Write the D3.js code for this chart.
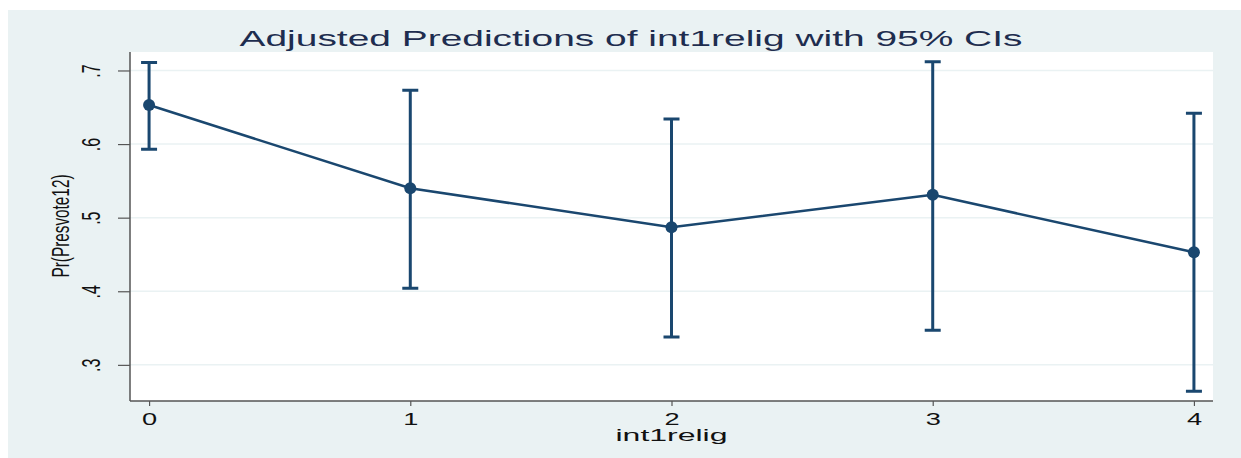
<!DOCTYPE html>
<html>
<head>
<meta charset="utf-8">
<script src="https://cdn.jsdelivr.net/npm/d3@7"></script>
<style>
  body { margin: 0; background: #fff; }
  svg { display: block; }
</style>
</head>
<body>
<div id="chart"></div>
<script>
// values
const levels = [0, 1, 2, 3, 4];
const margins = [0.653, 0.540, 0.487, 0.531, 0.453];
const ciLow = [0.593, 0.404, 0.338, 0.347, 0.264];
const ciHigh = [0.711, 0.673, 0.634, 0.712, 0.642];
const yTicks = [0.3, 0.4, 0.5, 0.6, 0.7];
const yTickLabels = ['.3', '.4', '.5', '.6', '.7'];

const width = 1241, height = 458;
const plot = { left: 130, right: 1213, top: 52, bottom: 401 };
const navy = '#1a476f';
const font = 'Liberation Sans, Arial, sans-serif';
// the source graph was stretched sideways, so text is too
const stretch = 1.6;

const svg = d3.select('#chart')
    .append('svg')
    .attr('width', width)
    .attr('height', height);

// graph region
svg.append('rect')
    .attr('x', 8).attr('y', 10)
    .attr('width', width - 8).attr('height', height - 10)
    .attr('fill', '#eaf2f3');

svg.append('rect')
    .attr('x', plot.left).attr('y', plot.top)
    .attr('width', plot.right - plot.left).attr('height', plot.bottom - plot.top)
    .attr('fill', '#fff');

const x = d3.scaleLinear()
    .domain([-0.073, 4.073])
    .range([plot.left, plot.right]);

const y = d3.scaleLinear()
    .domain([0.2509, 0.7251])
    .range([plot.bottom, plot.top]);

// gridlines
svg.append('g')
    .selectAll('line')
    .data(yTicks)
    .enter()
    .append('line')
    .attr('x1', plot.left).attr('x2', plot.right)
    .attr('y1', d => y(d)).attr('y2', d => y(d))
    .attr('stroke', '#eaf2f3')
    .attr('stroke-width', 1.5);

// y axis
const yAxis = svg.append('g')
    .attr('transform', `translate(${plot.left},0)`)
    .call(d3.axisLeft(y).tickValues(yTicks).tickSize(12).tickFormat((d, i) => yTickLabels[i]));
yAxis.select('.domain').attr('stroke', '#555').attr('stroke-width', 1.5)
    .attr('d', `M0,${plot.top}V${plot.bottom}`);
yAxis.selectAll('.tick line').attr('stroke', '#555').attr('stroke-width', 1.2);
yAxis.selectAll('.tick text')
    .attr('font-family', font)
    .attr('font-size', 16)
    .attr('fill', '#111')
    .attr('text-anchor', 'middle')
    .attr('dy', null)
    .attr('x', null)
    .attr('transform', `translate(-30,0) scale(${stretch},1) rotate(-90)`);

// x axis
const xAxis = svg.append('g')
    .attr('transform', `translate(0,${plot.bottom})`)
    .call(d3.axisBottom(x).tickValues(levels).tickSize(5).tickFormat(d3.format('d')));
xAxis.select('.domain').attr('stroke', '#555').attr('stroke-width', 1.5)
    .attr('d', `M${plot.left},0H${plot.right}`);
xAxis.selectAll('.tick line').attr('stroke', '#555').attr('stroke-width', 1.2);
xAxis.selectAll('.tick text')
    .attr('font-family', font)
    .attr('font-size', 17)
    .attr('fill', '#111')
    .attr('dy', null)
    .attr('y', 24)
    .attr('transform', `scale(${stretch},1)`);

// titles
svg.append('text')
    .attr('x', 631).attr('y', 46)
    .attr('text-anchor', 'middle')
    .attr('font-family', font)
    .attr('font-size', 22)
    .attr('fill', '#1e2d4f')
    .attr('textLength', 783)
    .attr('lengthAdjust', 'spacingAndGlyphs')
    .text('Adjusted Predictions of int1relig with 95% CIs');

svg.append('text')
    .attr('x', x(2)).attr('y', 441)
    .attr('text-anchor', 'middle')
    .attr('font-family', font)
    .attr('font-size', 16)
    .attr('fill', '#111')
    .attr('textLength', 112)
    .attr('lengthAdjust', 'spacingAndGlyphs')
    .text('int1relig');

svg.append('text')
    .attr('transform', `translate(69,226) scale(${stretch},1) rotate(-90)`)
    .attr('text-anchor', 'middle')
    .attr('font-family', font)
    .attr('font-size', 15)
    .attr('fill', '#111')
    .attr('textLength', 103)
    .attr('lengthAdjust', 'spacingAndGlyphs')
    .text('Pr(Presvote12)');

// confidence intervals
const rows = levels.map((d, i) => ({ level: d, m: margins[i], lo: ciLow[i], hi: ciHigh[i] }));
const ci = svg.append('g').attr('stroke', navy).attr('stroke-width', 3).attr('fill', 'none');
ci.selectAll('.ci')
    .data(rows)
    .enter()
    .append('path')
    .attr('class', 'ci')
    .attr('d', d => {
        const cx = x(d.level), half = 8;
        return `M${cx},${y(d.lo)}V${y(d.hi)}` +
            `M${cx - half},${y(d.hi)}H${cx + half}` +
            `M${cx - half},${y(d.lo)}H${cx + half}`;
    });

// connecting line
svg.append('path')
    .datum(rows)
    .attr('fill', 'none')
    .attr('stroke', navy)
    .attr('stroke-width', 2.5)
    .attr('d', d3.line().x(d => x(d.level)).y(d => y(d.m)));

// markers
svg.selectAll('.pt')
    .data(rows)
    .enter()
    .append('circle')
    .attr('class', 'pt')
    .attr('cx', d => x(d.level))
    .attr('cy', d => y(d.m))
    .attr('r', 6)
    .attr('fill', navy);
</script>
</body>
</html>
